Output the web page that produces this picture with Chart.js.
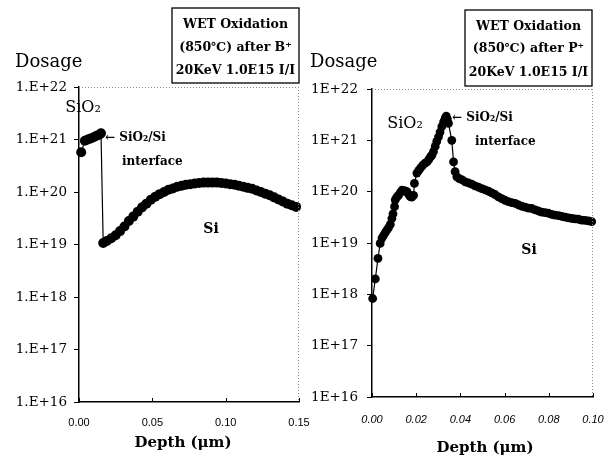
<!DOCTYPE html>
<html>
<head>
<meta charset="utf-8">
<script src="https://cdn.jsdelivr.net/npm/chart.js@4.4.1/dist/chart.umd.min.js"></script>
<style>
  body { margin: 0; background: #fff; }
  #wrap { position: relative; width: 611px; height: 461px; }
  canvas { position: absolute; top: 0; }
</style>
</head>
<body>
<div id="wrap">
  <canvas id="boronChart" width="320" height="461" style="left:0"></canvas>
  <canvas id="phosChart" width="306" height="461" style="left:305px"></canvas>
</div>
<script>
// --- data ---
const boronDepth = [0.0015, 0.004, 0.006, 0.008, 0.010, 0.012, 0.014, 0.015,
  0.0165, 0.019, 0.022, 0.025, 0.028, 0.031, 0.034, 0.037, 0.040, 0.043, 0.046, 0.049,
  0.052, 0.055, 0.058, 0.061, 0.064, 0.067, 0.070, 0.073, 0.076, 0.079, 0.082, 0.085,
  0.088, 0.091, 0.094, 0.097, 0.100, 0.103, 0.106, 0.109, 0.112, 0.115, 0.118, 0.121,
  0.124, 0.127, 0.130, 0.133, 0.136, 0.139, 0.142, 0.145, 0.148];
const boronDosage = [5.7e20, 9.5e20, 1.0e21, 1.05e21, 1.1e21, 1.18e21, 1.25e21, 1.32e21,
  1.07e19, 1.17e19, 1.32e19, 1.5e19, 1.8e19, 2.2e19, 2.8e19, 3.4e19, 4.2e19, 5.1e19, 6.0e19, 7.1e19,
  8.1e19, 9.1e19, 1.0e20, 1.1e20, 1.17e20, 1.26e20, 1.32e20, 1.38e20, 1.41e20, 1.45e20, 1.48e20, 1.51e20,
  1.51e20, 1.51e20, 1.51e20, 1.48e20, 1.45e20, 1.41e20, 1.38e20, 1.32e20, 1.26e20, 1.2e20, 1.15e20, 1.07e20,
  1.0e20, 9.3e19, 8.7e19, 7.9e19, 7.2e19, 6.6e19, 6.0e19, 5.6e19, 5.2e19];

const phosDepth = [0.0003, 0.0015, 0.0027, 0.0037, 0.0045, 0.0052, 0.0060, 0.0068, 0.0075,
  0.0083, 0.0090, 0.0095, 0.0102, 0.0105, 0.0112, 0.0120, 0.0128, 0.0136, 0.0145, 0.0152,
  0.0158, 0.0165, 0.0173, 0.0180, 0.0188, 0.0192, 0.0203, 0.0212, 0.0220, 0.0230, 0.0240,
  0.0249, 0.0258, 0.0265, 0.0271, 0.0278, 0.0286, 0.0293, 0.0301, 0.0308, 0.0316, 0.0324,
  0.0331, 0.0336, 0.0341, 0.0346, 0.0361, 0.0369, 0.0376, 0.0384, 0.0395, 0.0408, 0.0422,
  0.0436, 0.0451, 0.0466, 0.0482, 0.0497, 0.0512, 0.0527, 0.0542, 0.0557, 0.0572, 0.0587,
  0.0602, 0.0617, 0.0632, 0.0648, 0.0663, 0.0678, 0.0693, 0.0708, 0.0723, 0.0738, 0.0753,
  0.0768, 0.0783, 0.0798, 0.0813, 0.0828, 0.0844, 0.0859, 0.0874, 0.0889, 0.0904, 0.0919,
  0.0934, 0.0949, 0.0964, 0.0979, 0.0994];
const phosDosage = [8.3e17, 2.0e18, 5.0e18, 9.8e18, 1.25e19, 1.4e19, 1.6e19, 1.8e19, 2.0e19,
  2.3e19, 3.0e19, 3.7e19, 5.1e19, 6.9e19, 7.8e19, 8.5e19, 9.6e19, 1.07e20, 1.05e20, 1.02e20,
  1.0e20, 9.0e19, 8.0e19, 7.8e19, 8.5e19, 1.45e20, 2.3e20, 2.6e20, 2.9e20, 3.3e20, 3.6e20,
  3.8e20, 4.3e20, 4.8e20, 5.1e20, 6.0e20, 7.6e20, 9.5e20, 1.17e21, 1.45e21, 1.86e21, 2.3e21,
  2.7e21, 2.95e21, 2.6e21, 2.15e21, 1.0e21, 3.8e20, 2.45e20, 1.95e20, 1.8e20, 1.7e20, 1.55e20,
  1.48e20, 1.4e20, 1.3e20, 1.22e20, 1.15e20, 1.08e20, 1.02e20, 9.5e19, 8.8e19, 7.9e19, 7.3e19,
  6.8e19, 6.4e19, 6.1e19, 5.9e19, 5.5e19, 5.2e19, 5.0e19, 4.8e19, 4.7e19, 4.4e19, 4.2e19,
  4.0e19, 3.9e19, 3.8e19, 3.6e19, 3.5e19, 3.4e19, 3.3e19, 3.2e19, 3.1e19, 3.0e19, 2.95e19,
  2.9e19, 2.8e19, 2.75e19, 2.7e19, 2.6e19];

const yTickValues = [1e16, 1e17, 1e18, 1e19, 1e20, 1e21, 1e22];
const boronYLabels = ['1.E+16', '1.E+17', '1.E+18', '1.E+19', '1.E+20', '1.E+21', '1.E+22'];
const phosYLabels = ['1E+16', '1E+17', '1E+18', '1E+19', '1E+20', '1E+21', '1E+22'];
const boronXTicks = [0, 0.05, 0.10, 0.15];
const boronXLabels = ['0.00', '0.05', '0.10', '0.15'];
const phosXTicks = [0, 0.02, 0.04, 0.06, 0.08, 0.10];
const phosXLabels = ['0.00', '0.02', '0.04', '0.06', '0.08', '0.10'];

const SERIF = "'DejaVu Serif', 'Liberation Serif', serif";

function txt(ctx, s, x, y, size, bold, align) {
  ctx.font = (bold ? 'bold ' : '') + size + 'px ' + SERIF;
  ctx.textAlign = align || 'left';
  ctx.textBaseline = 'middle';
  ctx.fillStyle = '#000';
  ctx.fillText(s, x, y);
}

// frame, inward x ticks and the free text of each panel
function decorPlugin(d) {
  return {
    id: 'decor',
    afterDraw(chart) {
      const ctx = chart.ctx;
      const a = chart.chartArea;
      const xs = chart.scales.x;
      ctx.save();
      ctx.strokeStyle = '#888';
      ctx.lineWidth = 1;
      ctx.setLineDash([1, 2]);
      ctx.beginPath();
      ctx.moveTo(a.left, a.top + 0.5); ctx.lineTo(a.right, a.top + 0.5);
      ctx.moveTo(a.right - 0.5, a.top); ctx.lineTo(a.right - 0.5, a.bottom);
      ctx.stroke();
      ctx.setLineDash([]);
      ctx.strokeStyle = '#000';
      ctx.beginPath();
      d.xTicks.forEach(v => {
        const px = Math.round(xs.getPixelForValue(v)) + 0.5;
        ctx.moveTo(px, a.bottom); ctx.lineTo(px, a.bottom - 4);
      });
      ctx.stroke();

      ctx.lineWidth = 1.3;
      ctx.strokeRect(d.box[0], d.box[1], d.box[2] - d.box[0], d.box[3] - d.box[1]);
      const cx = (d.box[0] + d.box[2]) / 2;
      d.boxLines.forEach((s, i) => txt(ctx, s, cx, d.boxY[i], 12.5, true, 'center'));

      txt(ctx, 'Dosage', d.dosage[0], d.dosage[1], 18, false);
      txt(ctx, 'SiO₂', d.oxide[0], d.oxide[1], 16, false, 'center');
      txt(ctx, '← SiO₂/Si', d.iface[0], d.iface[1], 12, true);
      txt(ctx, 'interface', d.iface2[0], d.iface2[1], 12, true);
      txt(ctx, 'Si', d.si[0], d.si[1], 14, true, 'center');
      txt(ctx, 'Depth (μm)', d.depth[0], d.depth[1], 15, true, 'center');
      ctx.restore();
    }
  };
}

function makeChart(id, o) {
  const points = o.depth.map((x, i) => ({ x: x, y: o.dosage[i] }));
  return new Chart(document.getElementById(id), {
    type: 'line',
    data: {
      datasets: [{
        data: points,
        borderColor: '#000',
        borderWidth: 1.2,
        backgroundColor: '#000',
        pointBackgroundColor: '#000',
        pointBorderWidth: 0,
        pointRadius: o.radius,
        tension: 0,
        clip: 8
      }]
    },
    options: {
      responsive: false,
      animation: false,
      devicePixelRatio: 1,
      layout: { padding: { top: o.top, right: o.padRight, bottom: 0, left: 0 } },
      plugins: { legend: { display: false }, tooltip: { enabled: false } },
      scales: {
        x: {
          type: 'linear',
          min: o.xTicks[0],
          max: o.xTicks[o.xTicks.length - 1],
          afterBuildTicks: s => { s.ticks = o.xTicks.map(v => ({ value: v })); },
          afterFit: s => { s.height = o.xHeight; s.paddingLeft = 0; s.paddingRight = 0; },
          border: { display: true, color: '#000', width: 1.5 },
          grid: { display: false },
          ticks: {
            color: '#000',
            padding: o.xPad,
            maxRotation: 0,
            font: { family: "'Liberation Sans', Arial, sans-serif", size: 11, style: o.xItalic ? 'italic' : 'normal' },
            callback: (v, i) => o.xLabels[i]
          }
        },
        y: {
          type: 'logarithmic',
          min: 1e16,
          max: 1e22,
          afterBuildTicks: s => { s.ticks = yTickValues.map(v => ({ value: v })); },
          afterFit: s => { s.width = o.yWidth; s.paddingTop = 0; s.paddingBottom = 0; },
          border: { display: true, color: '#000', width: 1.5 },
          grid: { drawOnChartArea: false, drawTicks: true, tickLength: 5, color: '#000' },
          ticks: {
            color: '#000',
            padding: o.yPad,
            font: { family: SERIF, size: 13.5 },
            callback: (v, i) => o.yLabels[i]
          }
        }
      }
    },
    plugins: [decorPlugin(o.decor)]
  });
}

makeChart('boronChart', {
  depth: boronDepth, dosage: boronDosage, radius: 5,
  top: 87, padRight: 21, xHeight: 59, yWidth: 79, xPad: 6, yPad: 7,
  xTicks: boronXTicks, xLabels: boronXLabels, yLabels: boronYLabels, xItalic: false,
  decor: {
    xTicks: boronXTicks,
    box: [172, 8, 299, 83],
    boxLines: ['WET Oxidation', '(850℃) after B⁺', '20KeV 1.0E15 I/I'],
    boxY: [25, 48, 71],
    dosage: [15, 62], oxide: [83, 108], iface: [105, 138], iface2: [122, 162],
    si: [211, 229], depth: [183, 443]
  }
});

makeChart('phosChart', {
  depth: phosDepth, dosage: phosDosage, radius: 4.4,
  top: 89, padRight: 18, xHeight: 64, yWidth: 67, xPad: 8, yPad: 9,
  xTicks: phosXTicks, xLabels: phosXLabels, yLabels: phosYLabels, xItalic: true,
  decor: {
    xTicks: phosXTicks,
    box: [160, 10, 287, 86],
    boxLines: ['WET Oxidation', '(850℃) after P⁺', '20KeV 1.0E15 I/I'],
    boxY: [27, 49, 73],
    dosage: [5, 62], oxide: [100, 124], iface: [147, 118], iface2: [170, 142],
    si: [224, 250], depth: [180, 448]
  }
});
</script>
</body>
</html>
